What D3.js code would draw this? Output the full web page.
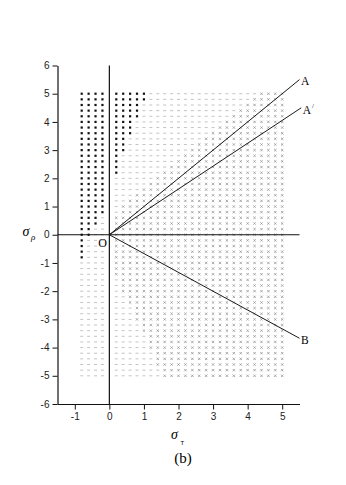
<!DOCTYPE html>
<html>
<head>
<meta charset="utf-8">
<script src="https://cdn.jsdelivr.net/npm/d3@7"></script>
<style>
    body { margin: 0; background: #fff; }
</style>
</head>
<body>
<div class="canvas"></div>
<script>
// DATA

// grid columns (sigma_T) and rows (sigma_rho) of the sampled points
const gridX = [-0.8, -0.6, -0.4, -0.2, 0.2, 0.4, 0.6, 0.8, 1.0, 1.2, 1.4, 1.6, 1.8, 2.0, 2.2,
    2.4, 2.6, 2.8, 3.0, 3.2, 3.4, 3.6, 3.8, 4.0, 4.2, 4.4, 4.6, 4.8, 5.0];
const gridY = [5.0, 4.8, 4.6, 4.4, 4.2, 4.0, 3.8, 3.6, 3.4, 3.2, 3.0, 2.8, 2.6, 2.4, 2.2,
    2.0, 1.8, 1.6, 1.4, 1.2, 1.0, 0.8, 0.6, 0.4, 0.2, 0.0,
    -0.2, -0.4, -0.6, -0.8, -1.0, -1.2, -1.4, -1.6, -1.8, -2.0, -2.2, -2.4, -2.6, -2.8, -3.0,
    -3.2, -3.4, -3.6, -3.8, -4.0, -4.2, -4.4, -4.6, -4.8, -5.0];

// per row: black points up to this sigma_T (-9 = none)
const blackTo = [1.0, 1.0, 0.8, 0.8, 0.8, 0.6, 0.6, 0.6, 0.4, 0.4, 0.4, 0.2, 0.2, 0.2, 0.2,
    -0.2, -0.2, -0.2, -0.2, -0.2, -0.2, -0.2, -0.4, -0.4, -0.6, -0.6,
    -0.8, -0.8, -0.8, -0.8, -9, -9, -9, -9, -9, -9, -9, -9, -9, -9, -9,
    -9, -9, -9, -9, -9, -9, -9, -9, -9, -9];

// per row: crosses from this sigma_T onwards
const crossFrom = [4.4, 4.2, 4.0, 3.8, 3.6, 3.4, 3.2, 3.0, 2.8, 2.6, 2.4, 2.2, 2.0, 1.8, 1.6,
    1.4, 1.2, 1.0, 0.8, 0.6, 0.4, 0.4, 0.2, 0.2, 0.2, 0.2,
    0.2, 0.2, 0.2, 0.2, 0.2, 0.2, 0.2, 0.4, 0.4, 0.4, 0.6, 0.6, 0.8, 0.8, 0.8,
    1.0, 1.0, 1.2, 1.2, 1.2, 1.4, 1.4, 1.4, 1.6, 1.6];

// rays from the origin
const rayNames = ['A', 'A', 'B'];
const rayEndX = [5.5, 5.55, 5.5];
const rayEndY = [5.5, 4.5, -3.67];

// ticks
const xTicks = [-1, 0, 1, 2, 3, 4, 5];
const xMinor = [-1.5, -0.5, 0.5, 1.5, 2.5, 3.5, 4.5, 5.5];
const yTicks = [-6, -5, -4, -3, -2, -1, 0, 1, 2, 3, 4, 5, 6];
const yMinor = [-5.5, -4.5, -3.5, -2.5, -1.5, -0.5, 0.5, 1.5, 2.5, 3.5, 4.5, 5.5];


// PLOTTING

const svg = d3.select('.canvas').append('svg')
    .attr('width', 346)
    .attr('height', 485)
    .style('display', 'block');

svg.append('rect')
    .attr('width', 346)
    .attr('height', 485)
    .attr('fill', '#fff');

// scales
const x = d3.scaleLinear().domain([-1.5, 5.5]).range([57.5, 299.5]);
const y = d3.scaleLinear().domain([-6, 6]).range([404, 65.5]);


// POINTS
const points = [];
gridY.forEach((gy, j) => {
    gridX.forEach(gx => {
        let kind = 'dash';
        if (gx <= blackTo[j] + 1e-9) kind = 'black';
        else if (gx >= crossFrom[j] - 1e-9) kind = 'cross';
        points.push({ gx, gy, kind });
    });
});

const dots = svg.append('g');

dots.selectAll('rect.dash')
    .data(points.filter(d => d.kind === 'dash'))
    .join('rect')
    .attr('class', 'dash')
    .attr('x', d => x(d.gx) - 1.5)
    .attr('y', d => y(d.gy) - 0.5)
    .attr('width', 3)
    .attr('height', 1)
    .attr('fill', '#c4c4c4');

dots.selectAll('path.cross')
    .data(points.filter(d => d.kind === 'cross'))
    .join('path')
    .attr('class', 'cross')
    .attr('transform', d => `translate(${x(d.gx)},${y(d.gy)})`)
    .attr('d', 'M-1.2,-1.2L1.2,1.2M-1.2,1.2L1.2,-1.2')
    .attr('stroke', '#8a8a8a')
    .attr('stroke-width', 0.7)
    .attr('fill', 'none');

dots.selectAll('rect.black')
    .data(points.filter(d => d.kind === 'black'))
    .join('rect')
    .attr('class', 'black')
    .attr('x', d => x(d.gx) - 1.1)
    .attr('y', d => y(d.gy) - 1.1)
    .attr('width', 2.2)
    .attr('height', 2.2)
    .attr('fill', '#111');


// ZERO LINES
svg.append('line')
    .attr('x1', x(0)).attr('x2', x(0))
    .attr('y1', y(6)).attr('y2', y(-6))
    .attr('stroke', '#111')
    .attr('stroke-width', 1.2);

svg.append('line')
    .attr('x1', x(-1.5)).attr('x2', x(5.5))
    .attr('y1', y(0)).attr('y2', y(0))
    .attr('stroke', '#111')
    .attr('stroke-width', 1.2);


// RAYS
rayNames.forEach((name, i) => {
    svg.append('line')
        .attr('x1', x(0)).attr('y1', y(0))
        .attr('x2', x(rayEndX[i])).attr('y2', y(rayEndY[i]))
        .attr('stroke', '#1a1a1a')
        .attr('stroke-width', 1);
});

const serif = '"Liberation Serif", "DejaVu Serif", serif';

svg.append('text')
    .attr('x', x(rayEndX[0]) + 1.5)
    .attr('y', y(rayEndY[0]) + 5.5)
    .style('font-family', serif)
    .style('font-size', '11.5px')
    .text(rayNames[0]);

const aPrime = svg.append('text')
    .attr('x', x(rayEndX[1]) + 1.5)
    .attr('y', y(rayEndY[1]) + 6.5)
    .style('font-family', serif)
    .style('font-size', '11.5px')
    .text(rayNames[1]);
aPrime.append('tspan')
    .attr('dx', 1)
    .attr('dy', -6)
    .style('font-size', '7px')
    .text('/');

svg.append('text')
    .attr('x', x(rayEndX[2]) + 1.5)
    .attr('y', y(rayEndY[2]) + 6)
    .style('font-family', serif)
    .style('font-size', '11.5px')
    .text(rayNames[2]);

svg.append('text')
    .attr('x', x(0) - 11)
    .attr('y', y(0) + 12)
    .style('font-family', serif)
    .style('font-size', '12px')
    .text('O');


// AXES
const sans = '"Liberation Sans", Arial, sans-serif';
const fmt = d => String(d);

const xAxis = svg.append('g').attr('transform', `translate(0,${y(-6)})`);
xAxis.call(d3.axisBottom(x).tickValues(xMinor).tickSize(3).tickSizeOuter(0).tickFormat(''));
xAxis.call(d3.axisBottom(x).tickValues(xTicks).tickSize(5.5).tickSizeOuter(0).tickPadding(3).tickFormat(fmt));

const yAxis = svg.append('g').attr('transform', `translate(${x(-1.5)},0)`);
yAxis.call(d3.axisLeft(y).tickValues(yMinor).tickSize(3).tickSizeOuter(0).tickFormat(''));
yAxis.call(d3.axisLeft(y).tickValues(yTicks).tickSize(5).tickSizeOuter(0).tickPadding(3).tickFormat(fmt));

svg.selectAll('.domain').attr('stroke', '#111').attr('stroke-width', 1.2);
svg.selectAll('.tick line').attr('stroke', '#111');
svg.selectAll('.tick text')
    .style('font-family', sans)
    .style('font-size', '10px')
    .attr('fill', '#222');


// AXIS TITLES
const xTitle = svg.append('text')
    .attr('x', 171)
    .attr('y', 438.5)
    .style('font-family', serif)
    .style('font-style', 'italic')
    .style('font-size', '14px')
    .text('σ');
xTitle.append('tspan')
    .attr('x', 180.5)
    .attr('y', 444.5)
    .style('font-family', sans)
    .style('font-style', 'normal')
    .style('font-size', '6px')
    .text('T');

const yTitle = svg.append('text')
    .attr('x', 22.5)
    .attr('y', 236)
    .style('font-family', serif)
    .style('font-style', 'italic')
    .style('font-size', '14px')
    .text('σ');
yTitle.append('tspan')
    .attr('x', 31)
    .attr('y', 239.5)
    .style('font-size', '9px')
    .text('ρ');

svg.append('text')
    .attr('x', 183)
    .attr('y', 462.5)
    .attr('text-anchor', 'middle')
    .style('font-family', serif)
    .style('font-size', '15px')
    .text('(b)');
</script>
</body>
</html>
